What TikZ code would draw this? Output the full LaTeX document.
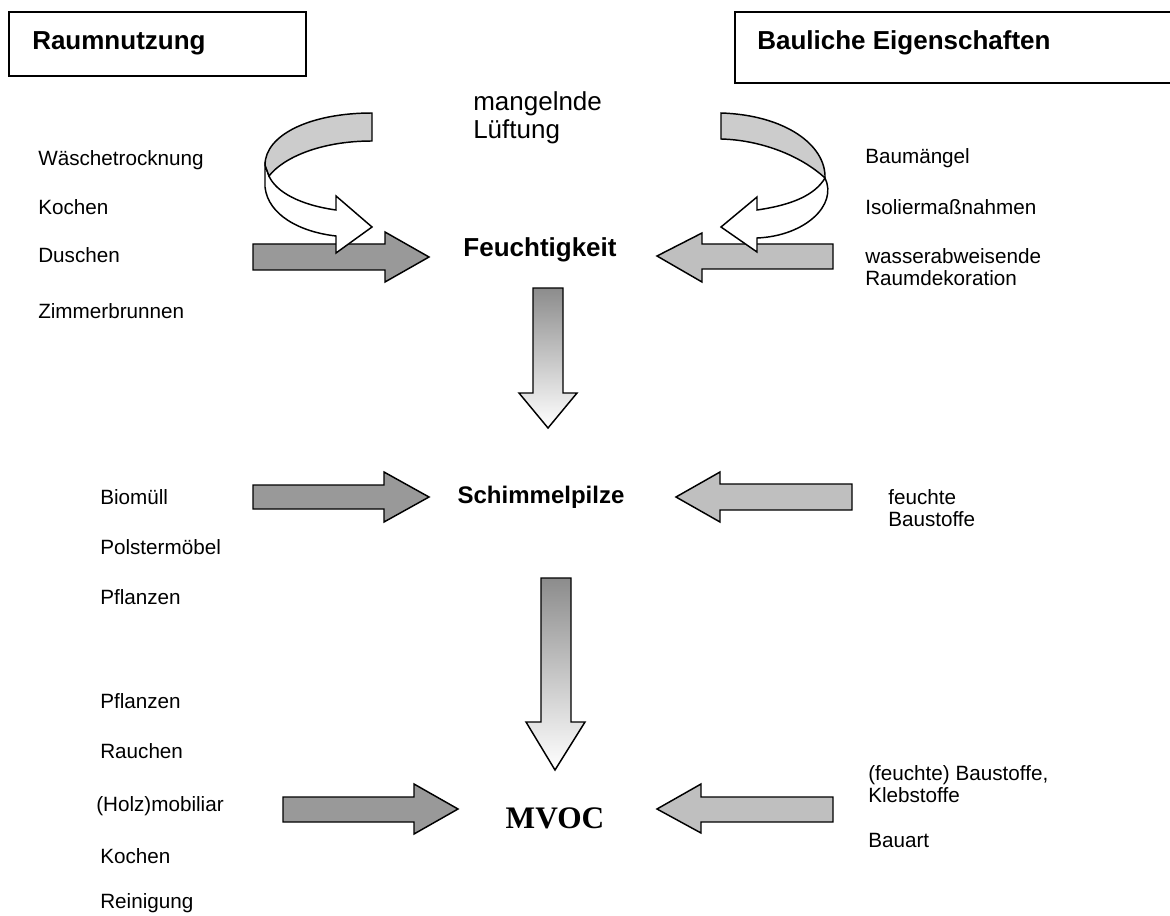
\documentclass[tikz,border=0pt]{standalone}
\usepackage{fontspec}
\setmainfont{Liberation Sans}
\newfontfamily\timesfont{Liberation Serif}
\begin{document}
\begin{tikzpicture}[x=0.75pt,y=-0.75pt,
  hdr/.style={font=\fontsize{19.5}{23}\selectfont\bfseries, anchor=west, inner sep=0pt},
  mainlbl/.style={font=\fontsize{19.5}{23}\selectfont\bfseries, inner sep=0pt},
  lbl/.style={font=\fontsize{15.5}{16.5}\selectfont, anchor=west, inner sep=0pt, align=left},
  boxline/.style={draw=black, line width=1.5pt},
  darkarrow/.style={draw=black, line width=1.1pt, fill=black!40},
  lightarrow/.style={draw=black, line width=1.1pt, fill=black!25},
  curvegrey/.style={draw=black, line width=1.1pt, fill=black!20},
  curvewhite/.style={draw=black, line width=1.1pt, fill=white},
  gradarrow/.style={draw=black, line width=1.1pt, top color=black!45, bottom color=white}
]
\useasboundingbox (0,0) rectangle (1170,916);

% header boxes
\draw[boxline] (9,12) rectangle (306,76);
\node[hdr] (raum) at (32,43) {Raumnutzung};
\begin{scope}
\clip (0,0) rectangle (1170,916);
\draw[boxline] (735,12) rectangle (1185,83);
\end{scope}
\node[hdr] (baul) at (757,43) {Bauliche Eigenschaften};

% central labels
\node[font=\fontsize{19.5}{21}\selectfont, anchor=west, inner sep=0pt, align=left] (luft) at (473,118) {mangelnde\\Lüftung};
\node[mainlbl] (feucht) at (540,250) {Feuchtigkeit};
\node[mainlbl, font=\fontsize{18}{21}\selectfont\bfseries] (schimmel) at (541,497) {Schimmelpilze};
\node[font=\fontsize{23.5}{25}\selectfont\timesfont\bfseries, inner sep=0pt] (mvoc) at (555,818) {MVOC};

% left labels
\node[lbl] (l1) at (38,160) {Wäschetrocknung};
\node[lbl] (l2) at (38,207) {Kochen};
\node[lbl] (l3) at (38,255) {Duschen};
\node[lbl] (l4) at (38,311) {Zimmerbrunnen};
\node[lbl] (l5) at (100,497) {Biomüll};
\node[lbl] (l6) at (100,547) {Polstermöbel};
\node[lbl] (l7) at (100,597) {Pflanzen};
\node[lbl] (l8) at (100,701) {Pflanzen};
\node[lbl] (l9) at (100,751) {Rauchen};
\node[lbl] (l10) at (96,806) {(Holz)mobiliar};
\node[lbl] (l11) at (100,856) {Kochen};
\node[lbl] (l12) at (100,903) {Reinigung};

% right labels
\node[lbl] (r1) at (865,158) {Baumängel};
\node[lbl] (r2) at (865,207) {Isoliermaßnahmen};
\node[lbl] (r3) at (865,267) {wasserabweisende\\Raumdekoration};
\node[lbl] (r4) at (888,508) {feuchte\\Baustoffe};
\node[lbl] (r5) at (868,784) {(feuchte) Baustoffe,\\Klebstoffe};
\node[lbl] (r6) at (868,840) {Bauart};

% straight block arrows - Feuchtigkeit row
\draw[darkarrow] (253,244) -- (385,244) -- (385,232) -- (429,257) -- (385,282) -- (385,270) -- (253,270) -- cycle;
\draw[lightarrow] (833,244) -- (702,244) -- (702,233) -- (657,256) -- (702,282) -- (702,269) -- (833,269) -- cycle;

% curved arrows (left)
\draw[curvewhite] (265,165) -- (265,187) .. controls (268,215) and (300,232) .. (336,236) -- (336,253) -- (372,227) -- (336,196) -- (336,210) .. controls (300,205) and (276,192) .. (269,176) -- cycle;
\draw[curvegrey] (372,113) .. controls (310,113) and (265,135) .. (265,165) -- (269,176) .. controls (283,158) and (320,141) .. (372,141) -- cycle;

% curved arrows (right)
\draw[curvewhite] (825,178) .. controls (838,205) and (805,236) .. (757,238) -- (757,252) -- (721,227) -- (757,197) -- (757,210) .. controls (792,205) and (815,195) .. (825,178) -- cycle;
\draw[curvegrey] (721,113) .. controls (785,115) and (826,145) .. (825,178) .. controls (800,155) and (760,140) .. (721,139) -- cycle;

% vertical arrows
\draw[gradarrow] (533,288) -- (563,288) -- (563,393) -- (577,393) -- (548,428) -- (519,393) -- (533,393) -- cycle;
\draw[gradarrow] (541,578) -- (571,578) -- (571,722) -- (585,722) -- (555,770) -- (526,722) -- (541,722) -- cycle;

% Schimmelpilze row
\draw[darkarrow] (253,485) -- (384,485) -- (384,472) -- (429,497) -- (384,522) -- (384,509) -- (253,509) -- cycle;
\draw[lightarrow] (852,484) -- (720,484) -- (720,472) -- (676,497) -- (720,522) -- (720,510) -- (852,510) -- cycle;

% MVOC row
\draw[darkarrow] (283,797) -- (414,797) -- (414,784) -- (458,809) -- (414,834) -- (414,822) -- (283,822) -- cycle;
\draw[lightarrow] (833,797) -- (701,797) -- (701,784) -- (657,809) -- (701,833) -- (701,822) -- (833,822) -- cycle;
\end{tikzpicture}
\end{document}
